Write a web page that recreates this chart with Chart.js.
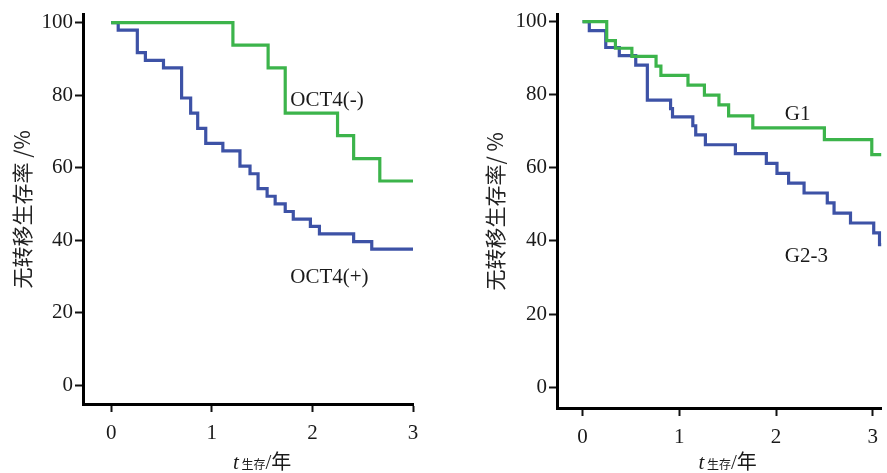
<!DOCTYPE html>
<html>
<head>
<meta charset="utf-8">
<script src="https://cdn.jsdelivr.net/npm/chart.js@4.4.1/dist/chart.umd.min.js"></script>
<style>
  html, body { margin: 0; padding: 0; background: #fff; }
  #wrap { position: relative; width: 887px; height: 473px; overflow: hidden; }
  #left { position: absolute; left: 0; top: 0; }
  #right { position: absolute; left: 440px; top: 0; }
</style>
</head>
<body>
<div id="wrap">
  <canvas id="left" width="440" height="473"></canvas>
  <canvas id="right" width="447" height="473"></canvas>
</div>
<script>
// tick values shared by both panels
const xTicks = [0, 1, 2, 3];
const yTicks = [0, 20, 40, 60, 80, 100];

// left panel - OCT4(-) (time in years, survival %)
const oct4NegTime = [0, 1.21, 1.56, 1.73, 2.25, 2.41, 2.67, 3.0];
const oct4NegSurv = [100, 93.8, 87.5, 75, 68.8, 62.5, 56.3, 56.3];

// left panel - OCT4(+)
const oct4PosTime = [0, 0.07, 0.26, 0.34, 0.52, 0.70, 0.79, 0.86, 0.94, 1.11, 1.28,
  1.38, 1.46, 1.55, 1.63, 1.73, 1.81, 1.98, 2.07, 2.41, 2.59, 3.0];
const oct4PosSurv = [100, 97.9, 91.7, 89.6, 87.5, 79.2, 75, 70.8, 66.7, 64.6, 60.4,
  58.3, 54.2, 52.1, 50, 47.9, 45.8, 43.8, 41.7, 39.6, 37.5, 37.5];

// right panel - G1
const g1Time = [0, 0.25, 0.34, 0.51, 0.76, 0.81, 1.09, 1.26, 1.41, 1.51, 1.76, 2.50, 2.99, 3.09];
const g1Surv = [100, 94.8, 92.7, 90.5, 87.8, 85.3, 82.6, 79.9, 77.2, 74.2, 70.9, 67.7, 63.6, 63.6];

// right panel - G2-3
const g23Time = [0, 0.07, 0.24, 0.38, 0.55, 0.67, 0.91, 0.93, 1.14, 1.17, 1.27, 1.58,
  1.90, 2.01, 2.13, 2.29, 2.53, 2.60, 2.77, 3.01, 3.07, 3.09];
const g23Surv = [100, 97.5, 92.9, 90.7, 88.1, 78.5, 76.2, 73.9, 71.5, 69.0, 66.3, 63.9,
  61.2, 58.5, 55.8, 53.1, 50.4, 47.6, 44.9, 42.2, 39.0, 39.0];

const GREEN = "#3cb44b";
const BLUE = "#3d52a6";
const SERIF = '"Liberation Serif", "Times New Roman", serif';
const CJK = '"Noto Sans CJK SC", sans-serif';

function toPoints(times, surv) {
  return times.map((t, i) => ({ x: t, y: surv[i] }));
}

// draws curve labels and the mixed-font x axis title
const extraText = {
  id: "extraText",
  afterDraw(chart, args, opts) {
    const ctx = chart.ctx;
    const xs = chart.scales.x;
    const ys = chart.scales.y;
    ctx.save();
    ctx.fillStyle = "#1a1a1a";
    ctx.textAlign = "left";
    ctx.textBaseline = "alphabetic";
    ctx.font = "21px " + SERIF;
    opts.labels.forEach((l) => {
      ctx.fillText(l.text, xs.getPixelForValue(l.x), ys.getPixelForValue(l.y));
    });

    const parts = [
      { text: "t", font: "italic 21px " + SERIF },
      { text: " 生存", font: "12px " + CJK },
      { text: "/", font: "21px " + SERIF },
      { text: "年", font: "20px " + CJK },
    ];
    let total = 0;
    parts.forEach((p) => {
      ctx.font = p.font;
      p.w = ctx.measureText(p.text).width;
      total += p.w;
    });
    let x = xs.getPixelForValue(1.5) - total / 2;
    parts.forEach((p) => {
      ctx.font = p.font;
      ctx.fillText(p.text, x, opts.titleY);
      x += p.w;
    });
    ctx.restore();
  },
};

function makeChart(id, datasets, cfg) {
  return new Chart(document.getElementById(id), {
    type: "line",
    data: { datasets: datasets },
    plugins: [extraText],
    options: {
      responsive: false,
      animation: false,
      layout: { padding: { top: cfg.padTop, right: cfg.padRight, left: 0, bottom: 0 } },
      elements: { point: { radius: 0 } },
      plugins: {
        legend: { display: false },
        tooltip: { enabled: false },
        extraText: { labels: cfg.labels, titleY: 469 },
      },
      scales: {
        x: {
          type: "linear",
          min: cfg.xMin,
          max: cfg.xMax,
          afterBuildTicks: (s) => { s.ticks = xTicks.map((v) => ({ value: v })); },
          afterFit: (s) => { s.height = cfg.xHeight; },
          border: { display: true, color: "#000", width: 3 },
          grid: { drawOnChartArea: false, drawTicks: true, tickLength: 8, tickWidth: 2, tickColor: "#111" },
          ticks: { color: "#1a1a1a", padding: 9, font: { family: SERIF, size: 21 }, maxRotation: 0 },
        },
        y: {
          min: cfg.yMin,
          max: cfg.yMax,
          afterBuildTicks: (s) => { s.ticks = yTicks.map((v) => ({ value: v })); },
          afterFit: (s) => { s.width = cfg.yWidth; },
          border: { display: true, color: "#000", width: 3 },
          grid: { drawOnChartArea: false, drawTicks: true, tickLength: 8, tickWidth: 2, tickColor: "#111" },
          ticks: { color: "#1a1a1a", padding: 2, font: { family: SERIF, size: 21 } },
          title: {
            display: true,
            text: cfg.yTitle,
            color: "#222",
            font: { family: CJK, size: 21 },
            padding: { top: cfg.yTitlePad, bottom: 0 },
          },
        },
      },
    },
  });
}

function line(label, times, surv, color) {
  return {
    label: label,
    data: toPoints(times, surv),
    borderColor: color,
    borderWidth: 3.2,
    stepped: true,
    fill: false,
    borderJoinStyle: "miter",
  };
}

makeChart("left", [
  line("OCT4(-)", oct4NegTime, oct4NegSurv, GREEN),
  line("OCT4(+)", oct4PosTime, oct4PosSurv, BLUE),
], {
  padTop: 14, padRight: 27,
  xMin: -0.28, xMax: 3.0, yMin: -5.2, yMax: 102.2,
  xHeight: 69, yWidth: 83, yTitlePad: 9,
  yTitle: "无转移生存率 /%",
  labels: [
    { text: "OCT4(-)", x: 1.78, y: 77.1 },
    { text: "OCT4(+)", x: 1.78, y: 28.1 },
  ],
});

makeChart("right", [
  line("G1", g1Time, g1Surv, GREEN),
  line("G2-3", g23Time, g23Surv, BLUE),
], {
  padTop: 12, padRight: 0,
  xMin: -0.264, xMax: 3.09, yMin: -5.7, yMax: 101.9,
  xHeight: 65, yWidth: 117, yTitlePad: 42,
  yTitle: "无转移生存率/ %",
  labels: [
    { text: "G1", x: 2.09, y: 73.1 },
    { text: "G2-3", x: 2.09, y: 34.2 },
  ],
});
</script>
</body>
</html>
